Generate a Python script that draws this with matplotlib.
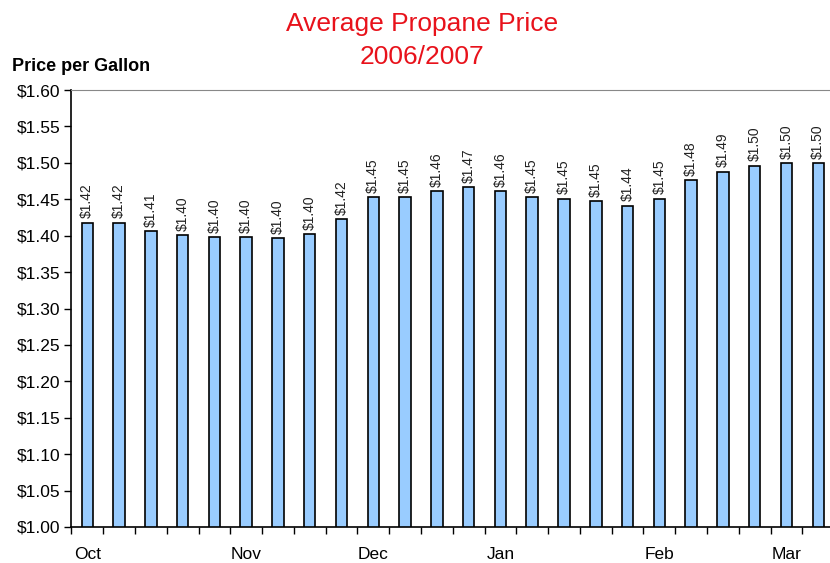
import matplotlib.pyplot as plt
import numpy as np

plt.rcParams['font.family'] = ['Liberation Sans', 'DejaVu Sans']

# weekly average price, Oct 2006 - Mar 2007
prices = [1.418, 1.418, 1.406, 1.401, 1.398, 1.398, 1.397, 1.402, 1.423,
          1.453, 1.453, 1.461, 1.467, 1.461, 1.453, 1.451, 1.447, 1.441,
          1.451, 1.476, 1.488, 1.496, 1.500, 1.500]
month_pos = [0, 5, 9, 13, 18, 22]
month_names = ['Oct', 'Nov', 'Dec', 'Jan', 'Feb', 'Mar']
yticks = np.arange(1.00, 1.601, 0.05)

fig = plt.figure(figsize=(8.30, 5.63), dpi=100)
ax = fig.add_axes([0.086, 0.064, 0.919, 0.776])

x = np.arange(len(prices))
ax.bar(x, prices, width=0.36, color='#99ccff', edgecolor='black', linewidth=1.2)

for xi, p in zip(x, prices):
    ax.text(xi, p + 0.006, '$%.2f' % p, rotation=90, ha='center', va='bottom',
            fontsize=10, color='#222222')

ax.set_xlim(-0.5, len(prices) - 0.5)
ax.set_ylim(1.0, 1.6)
ax.set_yticks(yticks)
ax.set_yticklabels(['$%.2f' % v for v in yticks], fontsize=12.5)
ax.set_xticks(np.arange(len(prices) + 1) - 0.5)
ax.set_xticklabels([])
ax.tick_params(axis='x', length=5, width=1)
ax.tick_params(axis='y', length=5, width=1, pad=3)
for xi, name in zip(month_pos, month_names):
    ax.text(xi, 0.972, name, ha='center', va='top', fontsize=12.5)

ax.spines['right'].set_visible(False)
ax.spines['top'].set_color('#888888')
ax.spines['left'].set_linewidth(1.2)
ax.spines['bottom'].set_linewidth(1.2)

fig.text(0.508, 0.958, 'Average Propane Price', color='#e8121b', fontsize=19,
         ha='center', va='center')
fig.text(0.508, 0.899, '2006/2007', color='#e8121b', fontsize=19,
         ha='center', va='center')
fig.text(0.014, 0.881, 'Price per Gallon', fontsize=13, fontweight='bold',
         ha='left', va='center')

fig.savefig('out.png', dpi=100)
